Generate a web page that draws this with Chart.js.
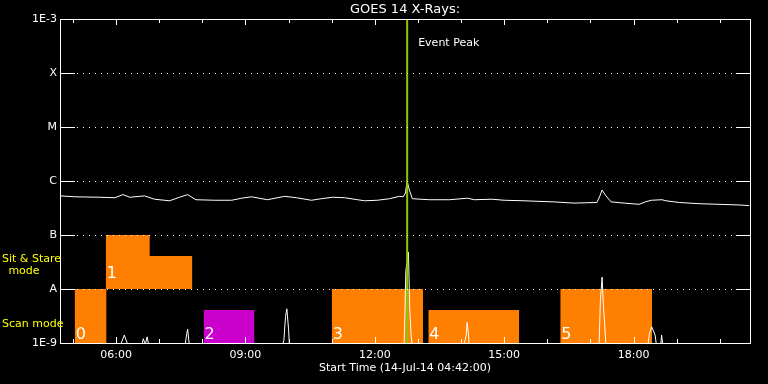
<!DOCTYPE html>
<html>
<head>
<meta charset="utf-8">
<title>GOES 14 X-Rays</title>
<script src="https://cdn.jsdelivr.net/npm/chart.js@4"></script>
<style>
  html, body { margin: 0; padding: 0; background: #000; }
</style>
</head>
<body>
<canvas id="chart" width="768" height="384"></canvas>
<script>
/*
 * GOES 14 X-ray flux with observing mode boxes, drawn as an IDL-style plot.
 */

// ── Axis range (hours of the day) and labels ──
var xStart = 4.7;   // 04:42
var xEnd = 20.7;
var xMajor = [6, 9, 12, 15, 18];
var xLabels = ["06:00", "09:00", "12:00", "15:00", "18:00"];
var xMinor = [5, 6, 7, 8, 9, 10, 11, 12, 13, 14, 15, 16, 17, 18, 19, 20];

var yLevels = [1e-9, 1e-8, 1e-7, 1e-6, 1e-5, 1e-4, 1e-3];
var yLabels = ["1E-9", "A", "B", "C", "M", "X", "1E-3"];

// ── Long channel flux (W/m²) ──
var fluxTime = [4.70, 5.04, 5.62, 5.97, 6.16, 6.32, 6.66, 6.89, 7.24, 7.47, 7.66, 7.85, 8.29, 8.68, 8.91,
    9.14, 9.51, 9.91, 10.18, 10.53, 10.76, 11.02, 11.30, 11.76, 12.06, 12.34, 12.57, 12.66, 12.71, 12.75,
    12.80, 12.87, 13.26, 13.73, 14.15, 14.31, 14.72, 15.00, 15.46, 16.16, 16.62, 17.15, 17.22, 17.27, 17.36,
    17.48, 17.78, 18.13, 18.27, 18.41, 18.66, 18.75, 19.06, 19.52, 19.98, 20.45, 20.68];
var fluxValue = [5.3e-7, 5.1e-7, 5.0e-7, 4.9e-7, 5.6e-7, 5.0e-7, 5.3e-7, 4.6e-7, 4.3e-7, 5.0e-7, 5.6e-7, 4.5e-7, 4.4e-7, 4.4e-7, 4.8e-7,
    5.1e-7, 4.5e-7, 5.2e-7, 4.9e-7, 4.4e-7, 4.7e-7, 5.0e-7, 4.9e-7, 4.3e-7, 4.4e-7, 4.7e-7, 5.2e-7, 5.1e-7, 6.0e-7, 1.0e-6,
    6.8e-7, 4.7e-7, 4.5e-7, 4.5e-7, 4.8e-7, 4.5e-7, 4.6e-7, 4.4e-7, 4.3e-7, 4.1e-7, 3.9e-7, 4.0e-7, 5.3e-7, 6.8e-7, 5.3e-7,
    4.1e-7, 3.9e-7, 3.7e-7, 4.1e-7, 4.4e-7, 4.5e-7, 4.3e-7, 4.0e-7, 3.8e-7, 3.7e-7, 3.6e-7, 3.5e-7];

// ── Short channel flux (mostly just below the plot floor) ──
var lowTime = [4.70, 6.10, 6.19, 6.28, 6.60, 6.63, 6.68, 6.72, 6.76, 7.60, 7.64, 7.66, 7.70, 9.86, 9.89,
    9.93, 9.96, 10.00, 10.02, 12.68, 12.72, 12.78, 12.81, 12.84, 12.87, 14.06, 14.09, 14.12, 14.14, 14.17,
    14.19, 17.20, 17.23, 17.27, 17.30, 17.33, 17.36, 18.33, 18.37, 18.42, 18.50, 18.53, 18.63, 18.65, 18.68, 20.70];
var lowValue = [9e-10, 9e-10, 1.4e-9, 9e-10, 9e-10, 1.2e-9, 9.5e-10, 1.3e-9, 9e-10, 9e-10, 1.5e-9, 1.8e-9, 9e-10, 9e-10, 1.1e-9,
    3.1e-9, 4.3e-9, 1.8e-9, 9e-10, 9e-10, 2.2e-8, 4.8e-8, 4.3e-9, 1.4e-9, 9e-10, 9e-10, 1.1e-9, 1.4e-9, 2.4e-9, 1.5e-9,
    9e-10, 9e-10, 5.9e-9, 1.66e-8, 4.9e-9, 2.2e-9, 9e-10, 9e-10, 1.5e-9, 2.0e-9, 1.4e-9, 9e-10, 9e-10, 1.4e-9, 9e-10, 9e-10];

// ── Observing mode boxes ──
var boxEdges = [[5.04, 5.78], [5.76, 6.78, 7.77], [8.03, 9.21], [11.00, 13.12], [13.24, 15.35], [16.30, 18.43]];
var boxTops = [[1e-8], [1e-7, 4.1e-8], [4.1e-9], [1e-8], [4.1e-9], [1e-8]];
var boxBase = [1e-9, 1e-8, 1e-9, 1e-9, 1e-9, 1e-9];
var boxKind = ["main", "main", "alt", "main", "main", "main"];
var boxLabel = ["0", "1", "2", "3", "4", "5"];
var boxLabelLevel = [1.19e-9, 1.6e-8, 1.19e-9, 1.19e-9, 1.19e-9, 1.19e-9];

var eventTime = 12.75;

// ── Styles ──
var FONT = "'DejaVu Sans', sans-serif";
var BOX_COLORS = { main: "#ff8000", alt: "#cc00cc" };
var EVENT_COLOR = "#8cc800";
var LABEL_COLOR = "#ffff00";

function points(xs, ys) {
    return xs.map(function (x, i) { return { x: x, y: ys[i] }; });
}

var datasets = [];

boxEdges.forEach(function (edges, b) {
    var pts = [];
    boxTops[b].forEach(function (top, i) {
        pts.push({ x: edges[i], y: top });
        pts.push({ x: edges[i + 1], y: top });
    });
    datasets.push({
        data: pts,
        borderWidth: 0,
        borderColor: "rgba(0,0,0,0)",
        backgroundColor: BOX_COLORS[boxKind[b]],
        fill: { value: boxBase[b] },
        pointRadius: 0,
        order: 3
    });
});

datasets.push({
    data: points(fluxTime, fluxValue),
    borderColor: "#ffffff", borderWidth: 1, pointRadius: 0, fill: false, order: 2
});
datasets.push({
    data: points(lowTime, lowValue),
    borderColor: "#ffffff", borderWidth: 1, pointRadius: 0, fill: false, order: 2
});
datasets.push({
    data: [{ x: eventTime, y: yLevels[0] }, { x: eventTime, y: yLevels[yLevels.length - 1] }],
    borderColor: EVENT_COLOR, borderWidth: 2, pointRadius: 0, fill: false, order: 1
});

// ── Frame, inward ticks, dotted levels and annotations ──
var framePlugin = {
    id: "frame",
    afterDatasetsDraw: function (chart) {
        var ctx = chart.ctx, a = chart.chartArea;
        var xs = chart.scales.x, ys = chart.scales.y;
        ctx.save();
        ctx.strokeStyle = "#ffffff";
        ctx.lineWidth = 1;

        // dotted level lines
        ctx.setLineDash([1, 5]);
        yLevels.slice(1, -1).forEach(function (v) {
            var y = Math.round(ys.getPixelForValue(v)) + 0.5;
            ctx.beginPath();
            ctx.moveTo(a.left + 17, y);
            ctx.lineTo(a.right - 14, y);
            ctx.stroke();
        });
        ctx.setLineDash([]);

        // level ticks on both sides
        yLevels.forEach(function (v) {
            var y = Math.round(ys.getPixelForValue(v)) + 0.5;
            ctx.beginPath();
            ctx.moveTo(a.left, y); ctx.lineTo(a.left + 15, y);
            ctx.moveTo(a.right - 14, y); ctx.lineTo(a.right, y);
            ctx.stroke();
        });

        // hour ticks top and bottom
        xMinor.forEach(function (h) {
            var x = Math.round(xs.getPixelForValue(h)) + 0.5;
            var len = xMajor.indexOf(h) >= 0 ? 6 : 4;
            ctx.beginPath();
            ctx.moveTo(x, a.top); ctx.lineTo(x, a.top + len);
            ctx.moveTo(x, a.bottom); ctx.lineTo(x, a.bottom - len);
            ctx.stroke();
        });

        // frame
        ctx.strokeRect(a.left + 0.5, a.top + 0.5, a.right - a.left, a.bottom - a.top);

        // title
        ctx.fillStyle = "#ffffff";
        ctx.font = "13px " + FONT;
        ctx.textAlign = "center";
        ctx.textBaseline = "middle";
        ctx.fillText("GOES 14 X-Rays:", (a.left + a.right) / 2, 10);

        // event label
        ctx.font = "11px " + FONT;
        ctx.textAlign = "left";
        ctx.fillText("Event Peak", xs.getPixelForValue(eventTime) + 11, 43);

        // box numbers
        ctx.font = "16px " + FONT;
        ctx.textBaseline = "alphabetic";
        boxEdges.forEach(function (edges, b) {
            ctx.fillText(boxLabel[b], xs.getPixelForValue(edges[0]) + 1, ys.getPixelForValue(boxLabelLevel[b]));
        });

        // mode labels
        var aY = ys.getPixelForValue(yLevels[1]);
        ctx.fillStyle = LABEL_COLOR;
        ctx.font = "11px " + FONT;
        ctx.textBaseline = "middle";
        ctx.fillText("Sit & Stare", 2, aY - 30);
        ctx.textAlign = "center";
        ctx.fillText("mode", 24, aY - 18);
        ctx.textAlign = "left";
        ctx.fillText("Scan mode", 2, aY + 35);
        ctx.restore();
    }
};

new Chart(document.getElementById("chart"), {
    type: "line",
    data: { datasets: datasets },
    options: {
        responsive: false,
        animation: false,
        layout: { padding: { top: 19, right: 18, left: 0, bottom: 0 } },
        plugins: {
            legend: { display: false },
            tooltip: { enabled: false },
            title: { display: false }
        },
        scales: {
            x: {
                type: "linear",
                min: xStart,
                max: xEnd,
                grid: { display: false, drawTicks: false },
                border: { display: false },
                afterBuildTicks: function (scale) {
                    scale.ticks = xMajor.map(function (v) { return { value: v }; });
                },
                afterFit: function (scale) { scale.height = 41; },
                ticks: {
                    color: "#ffffff",
                    font: { family: FONT, size: 11 },
                    padding: 6,
                    maxRotation: 0,
                    autoSkip: false,
                    callback: function (v) { return xLabels[xMajor.indexOf(v)]; }
                },
                title: {
                    display: true,
                    text: "Start Time (14-Jul-14 04:42:00)",
                    color: "#ffffff",
                    font: { family: FONT, size: 11 },
                    padding: { top: 0, bottom: 9 }
                }
            },
            y: {
                type: "logarithmic",
                min: yLevels[0],
                max: yLevels[yLevels.length - 1],
                grid: { display: false, drawTicks: false },
                border: { display: false },
                afterBuildTicks: function (scale) {
                    scale.ticks = yLevels.map(function (v) { return { value: v }; });
                },
                afterFit: function (scale) { scale.width = 60; },
                ticks: {
                    color: "#ffffff",
                    font: { family: FONT, size: 11 },
                    padding: 3,
                    autoSkip: false,
                    callback: function (v) { return yLabels[yLevels.indexOf(v)]; }
                }
            }
        }
    },
    plugins: [framePlugin]
});
</script>
</body>
</html>
